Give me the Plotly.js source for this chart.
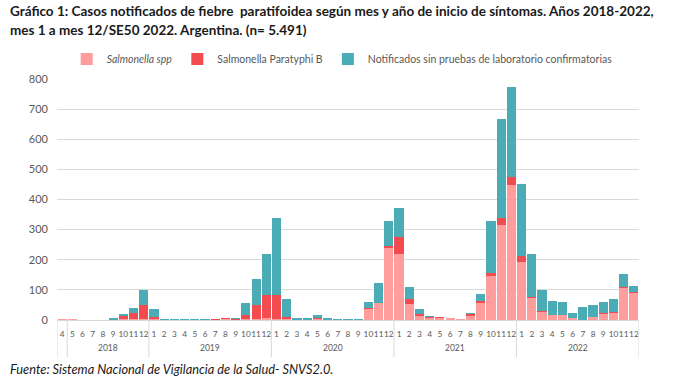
<!DOCTYPE html>
<html>
<head>
<meta charset="utf-8">
<script src="https://cdn.plot.ly/plotly-3.0.1.min.js"></script>
<style>html,body{margin:0;padding:0;background:#fff;}#chart{width:697px;height:384px;}</style>
</head>
<body>
<div id="chart"></div>
<script>
// Month labels and year groups (2018-4 .. 2022-12)
const years = [
  "2018","2018","2018","2018","2018","2018","2018","2018","2018",
  "2019","2019","2019","2019","2019","2019","2019","2019","2019","2019","2019","2019",
  "2020","2020","2020","2020","2020","2020","2020","2020","2020","2020","2020","2020",
  "2021","2021","2021","2021","2021","2021","2021","2021","2021","2021","2021","2021",
  "2022","2022","2022","2022","2022","2022","2022","2022","2022","2022","2022","2022"
];
const months = [
  "4","5","6","7","8","9","10","11","12",
  "1","2","3","4","5","6","7","8","9","10","11","12",
  "1","2","3","4","5","6","7","8","9","10","11","12",
  "1","2","3","4","5","6","7","8","9","10","11","12",
  "1","2","3","4","5","6","7","8","9","10","11","12"
];
// Salmonella spp
const spp = [
  3,3,0,0,0,0,2,3,3,
  3,0,0,1,1,1,1,2,1,3,4,5,
  4,3,1,1,2,0,0,0,0,37,55,240,
  219,52,14,8,6,6,3,14,55,146,316,448,
  194,72,28,15,15,7,1,10,20,24,107,90
];
// Salmonella Paratyphi B
const paratyphi = [
  0,1,0,0,0,0,12,19,47,
  8,1,0,0,0,0,1,3,1,13,45,78,
  80,8,0,0,6,0,0,0,0,2,3,6,
  56,17,6,1,3,2,0,5,8,9,24,26,
  19,5,2,2,1,1,0,1,2,2,4,2
];
// Notificados sin pruebas de laboratorio confirmatorias
const sinPruebas = [
  0,0,0,0,0,5,7,17,51,
  25,3,2,1,1,1,1,1,4,41,87,136,
  253,58,5,5,9,5,2,3,3,22,66,81,
  96,42,17,3,1,0,0,4,22,172,327,299,
  238,142,70,47,43,16,41,39,39,43,41,21
];
const seriesNames = ["<i>Salmonella spp</i>", "Salmonella Paratyphi B", "Notificados sin pruebas de laboratorio confirmatorias"];
const seriesColors = ["#FF9C9C", "#F24B50", "#4BACB6"];

const cats = years.map((y, i) => y + "-" + months[i]);
const traces = [spp, paratyphi, sinPruebas].map((vals, i) => ({
  type: "bar",
  x: cats,
  y: vals,
  name: seriesNames[i],
  marker: {color: seriesColors[i], line: {width: 0}},
  hoverinfo: "none"
}));

// Year groups: dividers between years (plus Excel's extra one after the first bar) and centred year labels
const n = cats.length;
const dividers = [-0.5, 0.5];
for (let i = 1; i < n; i++) if (years[i] !== years[i - 1]) dividers.push(i - 0.5);
dividers.push(n - 0.5);
const shapes = dividers.map(xv => ({
  type: "line", xref: "x", yref: "paper", x0: xv, x1: xv, y0: 0, y1: -0.154,
  line: {color: "#D9D9D9", width: 1}
}));
const uniqueYears = [...new Set(years)];
const yearAnn = uniqueYears.map((yr, k) => {
  const left = dividers[k + 1], right = dividers[k + 2];
  return {
    text: yr, xref: "x", yref: "paper", x: (left + right) / 2, y: -0.118,
    xanchor: "center", yanchor: "middle", showarrow: false,
    font: {size: 8.5, color: "#595959"}
  };
});

const layout = {
  width: 697, height: 384,
  margin: {l: 57, r: 58, t: 79, b: 64},
  paper_bgcolor: "#fff", plot_bgcolor: "#fff",
  font: {family: "Lato, 'Open Sans', sans-serif", color: "#595959"},
  barmode: "stack",
  bargap: 0.1,
  showlegend: true,
  legend: {
    orientation: "h", x: 0.49, xanchor: "center", y: 1.083, yanchor: "middle",
    font: {size: 10.5, color: "#595959"}, itemwidth: 30, traceorder: "normal"
  },
  xaxis: {
    type: "category",
    range: [-0.5, n - 0.5],
    showline: true, linecolor: "#D9D9D9", linewidth: 1,
    showgrid: false, ticks: "",
    tickmode: "array", tickvals: cats, ticktext: months, tickangle: 0,
    tickfont: {size: 8.3, color: "#595959"},
    ticklabelstandoff: 6
  },
  yaxis: {
    range: [0, 800], dtick: 100, tick0: 0,
    showgrid: true, gridcolor: "#D9D9D9", gridwidth: 1,
    zeroline: false, showline: false, ticks: "",
    tickfont: {size: 11, color: "#595959"},
    ticklabelstandoff: 8
  },
  shapes: shapes,
  annotations: [
    {
      text: "<b>Gráfico 1: Casos notificados de fiebre  paratifoidea según mes y año de inicio de síntomas. Años 2018-2022,</b>",
      xref: "paper", yref: "paper", x: -0.084, xanchor: "left", y: 1.283, yanchor: "middle",
      showarrow: false, font: {family: "Lato, sans-serif", size: 13.5, color: "#1a1a1a"}
    },
    {
      text: "<b>mes 1 a mes 12/SE50 2022. Argentina. (n= 5.491)</b>",
      xref: "paper", yref: "paper", x: -0.084, xanchor: "left", y: 1.203, yanchor: "middle",
      showarrow: false, font: {family: "Lato, sans-serif", size: 13.5, color: "#1a1a1a"}
    },
    {
      text: "<i>Fuente: Sistema Nacional de Vigilancia de la Salud- SNVS2.0.</i>",
      xref: "paper", yref: "paper", x: -0.084, xanchor: "left", y: -0.203, yanchor: "middle",
      showarrow: false, font: {family: "Lato, sans-serif", size: 12.8, color: "#1a1a1a"}
    }
  ].concat(yearAnn)
};

Plotly.newPlot("chart", traces, layout, {displayModeBar: false, staticPlot: true});
</script>
</body>
</html>
